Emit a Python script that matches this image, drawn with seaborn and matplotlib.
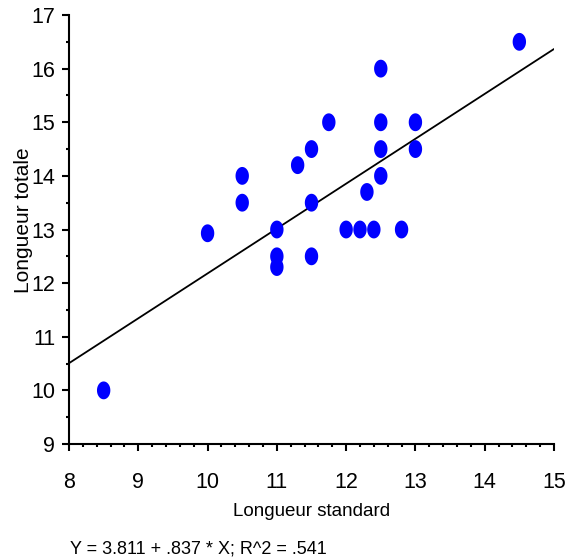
import numpy as np
import pandas as pd
import seaborn as sns
import matplotlib.pyplot as plt
from matplotlib.path import Path
from matplotlib.ticker import MultipleLocator

# Data
longueur_standard = [8.5, 10.0, 10.5, 10.5, 11.0, 11.0, 11.0, 11.3, 11.5, 11.5, 11.5, 11.75,
                     12.0, 12.2, 12.4, 12.3, 12.5, 12.5, 12.5, 12.5, 12.8, 13.0, 13.0, 14.5]
longueur_totale = [10.0, 12.93, 14.0, 13.5, 13.0, 12.5, 12.3, 14.2, 14.5, 13.5, 12.5, 15.0,
                   13.0, 13.0, 13.0, 13.7, 16.0, 15.0, 14.5, 14.0, 13.0, 15.0, 14.5, 16.5]
intercept = 3.811
slope = 0.837
r2 = 0.541

df = pd.DataFrame({'std': longueur_standard, 'tot': longueur_totale})

sns.set_style('ticks')
plt.rcParams['font.family'] = ['Liberation Sans', 'DejaVu Sans']

fig = plt.figure(figsize=(5.69, 5.58), dpi=100)
ax = fig.add_axes([0.1213, 0.2043, 0.8523, 0.7688])

# ellipse marker, a bit taller than wide
t = np.linspace(0, 2 * np.pi, 60)
ellipse = Path(np.column_stack([0.75 * np.cos(t), np.sin(t)]), closed=True)

sns.scatterplot(data=df, x='std', y='tot', ax=ax, color='#0000FF', marker=ellipse,
                s=165, edgecolor='none', linewidth=0, zorder=3, clip_on=False)

# fitted regression line over the x range
x_line = np.array([8.0, 15.0])
sns.lineplot(x=x_line, y=intercept + slope * x_line, ax=ax, color='black', lw=1.3)

ax.set_xlim(8, 15)
ax.set_ylim(9, 17)
ax.xaxis.set_major_locator(MultipleLocator(1))
ax.xaxis.set_minor_locator(MultipleLocator(0.2))
ax.yaxis.set_major_locator(MultipleLocator(1))
ax.yaxis.set_minor_locator(MultipleLocator(0.5))

sns.despine(ax=ax)
for side in ['left', 'bottom']:
    ax.spines[side].set_linewidth(1.5)
    ax.spines[side].set_color('black')

ax.tick_params(axis='both', which='major', length=5, width=1.5, color='black',
               labelsize=15.5, labelcolor='black')
ax.tick_params(axis='x', which='major', pad=15)
ax.tick_params(axis='y', which='major', pad=5)
ax.tick_params(axis='both', which='minor', length=2, width=1.5, color='black')

ax.set_xlabel('Longueur standard', fontsize=13.5, color='black', labelpad=7)
ax.set_ylabel('Longueur totale', fontsize=15, color='black', labelpad=-1.5)
ax.yaxis.label.set_y(0.521)

fig.text(70 / 569, 1 - 553 / 558, f'Y = {intercept:.3f} + {str(slope)[1:]} * X; R^2 = {str(r2)[1:]}',
         fontsize=13, color='black', ha='left', va='baseline')

fig.savefig('out.png', dpi=100, facecolor='white')
